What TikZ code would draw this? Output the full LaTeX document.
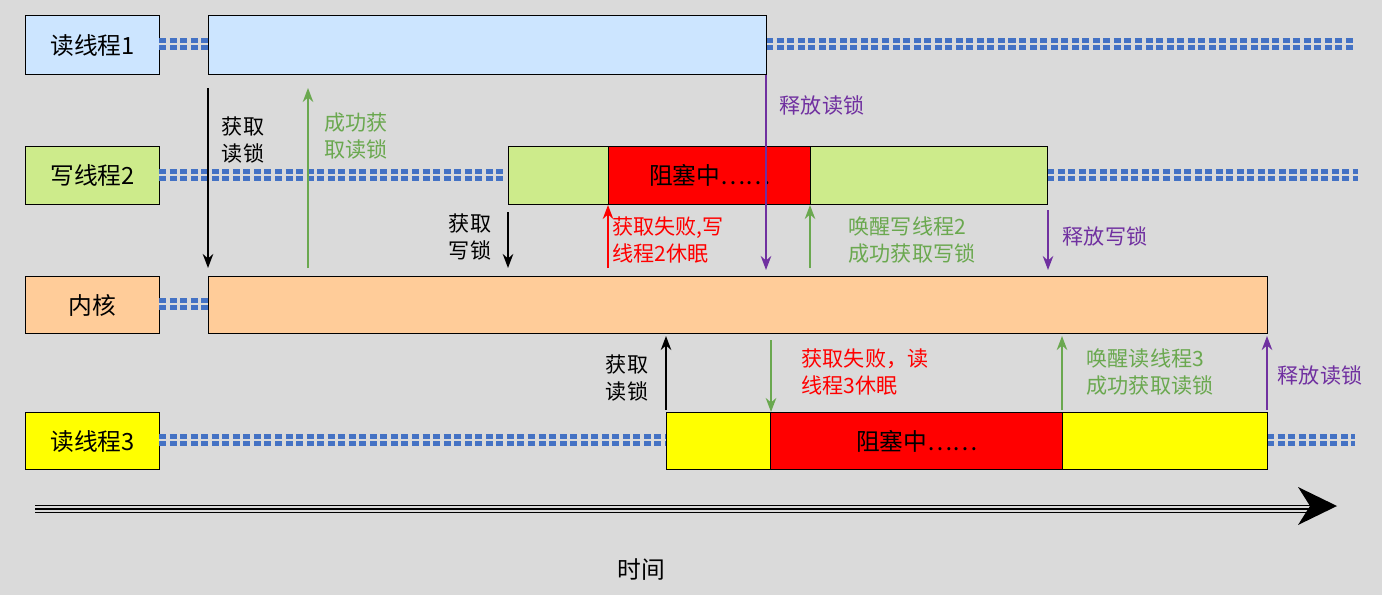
\documentclass[tikz,border=0pt]{standalone}
\usepackage{fontspec}
\setmainfont{Noto Sans CJK SC}
\usetikzlibrary{arrows.meta}
\definecolor{bg}{RGB}{218,218,218}
\definecolor{cread}{RGB}{204,229,255}
\definecolor{cwrite}{RGB}{205,235,139}
\definecolor{ckern}{RGB}{255,204,153}
\definecolor{cyel}{RGB}{255,255,0}
\definecolor{cred}{RGB}{255,0,0}
\definecolor{cdash}{RGB}{68,114,196}
\definecolor{cgreen}{RGB}{106,168,79}
\definecolor{cpurple}{RGB}{112,48,160}
\tikzset{
  box/.style={draw, line width=0.8pt, anchor=north west, inner sep=0pt},
  lbl/.style={font=\fontsize{13.5}{15}\selectfont},
  note/.style={font=\fontsize{12}{15}\selectfont, align=left},
  dl/.style={cdash, line width=3pt, dash pattern=on 4pt off 2pt, double=bg, double distance=1pt},
  arr/.style={-{Stealth[length=8pt,width=6pt]}, line width=1.1pt}
}
\begin{document}
\begin{tikzpicture}[x=0.02cm,y=-0.02cm]
\fill[bg] (0,0) rectangle (1382,595);
\useasboundingbox (0,0) rectangle (1382,595);
% labels
\node[box, fill=cread, minimum width=134*0.02cm, minimum height=59*0.02cm, lbl] (l1) at (25,15) {读线程1};
\node[box, fill=cwrite, minimum width=134*0.02cm, minimum height=58*0.02cm, lbl] (l2) at (25,146) {写线程2};
\node[box, fill=ckern, minimum width=134*0.02cm, minimum height=57*0.02cm, lbl] (l3) at (25,276) {内核};
\node[box, fill=cyel, minimum width=134*0.02cm, minimum height=57*0.02cm, lbl] (l4) at (25,412) {读线程3};
% dashed lines
\draw[dl] (159,44) -- (208,44);
\draw[dl] (766,44) -- (1355,44);
\draw[dl] (159,175) -- (506,175);
\draw[dl] (1047,175) -- (1358,175);
\draw[dl] (159,304) -- (208,304);
\draw[dl] (159,440) -- (666,440);
\draw[dl] (1267,440) -- (1355,440);
% bars
\node[box, fill=cread, minimum width=558*0.02cm, minimum height=59*0.02cm] (r1) at (208,15) {};
\node[box, fill=cwrite, minimum width=100*0.02cm, minimum height=58*0.02cm] (w2a) at (508,146) {};
\node[box, fill=cred, minimum width=202*0.02cm, minimum height=58*0.02cm, lbl] (w2b) at (608,146) {阻塞中……};
\node[box, fill=cwrite, minimum width=237*0.02cm, minimum height=58*0.02cm] (w2c) at (810,146) {};
\node[box, fill=ckern, minimum width=1059*0.02cm, minimum height=57*0.02cm] (k) at (208,276) {};
\node[box, fill=cyel, minimum width=104*0.02cm, minimum height=57*0.02cm] (r3a) at (666,412) {};
\node[box, fill=cred, minimum width=292*0.02cm, minimum height=57*0.02cm, lbl] (r3b) at (770,412) {阻塞中……};
\node[box, fill=cyel, minimum width=205*0.02cm, minimum height=57*0.02cm] (r3c) at (1062,412) {};
% arrows
\draw[arr] (208,88) -- (208,268);
\node[note] (n1) at (243,140) {获取\\读锁};
\draw[arr, cgreen] (308,268) -- (308,88);
\node[note, text=cgreen] (n2) at (356,136) {成功获\\取读锁};
\draw[arr, cpurple] (766,75) -- (766,270);
\node[note, text=cpurple] (n3) at (822,105) {释放读锁};
\draw[arr] (508,212) -- (508,268);
\node[note] (n4) at (470,237) {获取\\写锁};
\draw[arr, cred] (608,268) -- (608,205);
\node[note, text=cred] (n5) at (668,240) {获取失败,写\\线程2休眠};
\draw[arr, cgreen] (810,268) -- (810,205);
\node[note, text=cgreen] (n6) at (912,240) {唤醒写线程2\\成功获取写锁};
\draw[arr, cpurple] (1048,210) -- (1048,270);
\node[note, text=cpurple] (n7) at (1105,236) {释放写锁};
\draw[arr] (666,410) -- (666,336);
\node[note] (n8) at (627,378) {获取\\读锁};
\draw[arr, cgreen] (771,340) -- (771,412);
\node[note, text=cred] (n9) at (865,372) {获取失败，读\\线程3休眠};
\draw[arr, cgreen] (1062,410) -- (1062,336);
\node[note, text=cgreen] (n10) at (1150,372) {唤醒读线程3\\成功获取读锁};
\draw[arr, cpurple] (1267,410) -- (1267,336);
\node[note, text=cpurple] (n11) at (1320,375) {释放读锁};
% time axis
\draw[line width=1pt, double=bg, double distance=3pt] (35,509) -- (1310,509);
\draw[line width=1pt] (35,509) -- (1310,509);
\fill (1298,487) -- (1337,506) -- (1298,525) -- (1310,506) -- cycle;
\node[lbl] (t) at (641,570) {时间};
\end{tikzpicture}
\end{document}
